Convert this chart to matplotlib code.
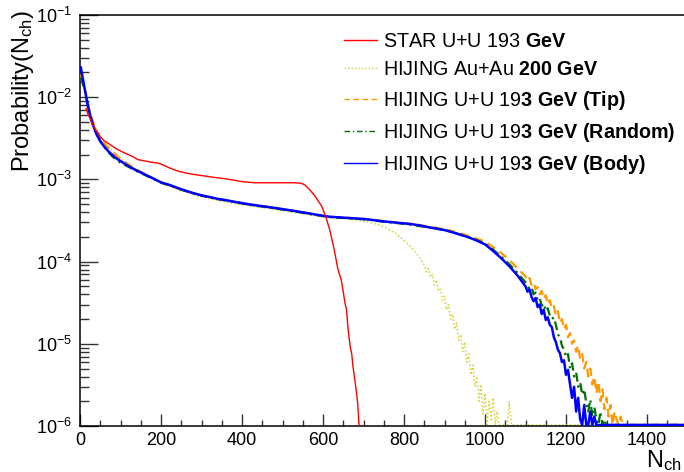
import numpy as np
import matplotlib
matplotlib.use("Agg")
import matplotlib.pyplot as plt
from matplotlib.ticker import LogLocator, MultipleLocator, LogFormatterSciNotation, NullFormatter

plt.rcParams["font.family"] = ["Liberation Sans", "DejaVu Sans"]
plt.rcParams["mathtext.fontset"] = "custom"
plt.rcParams["mathtext.rm"] = "Liberation Sans"
plt.rcParams["mathtext.bf"] = "Liberation Sans:bold"
plt.rcParams["mathtext.it"] = "Liberation Sans:italic"

# ---------------- data ----------------
# STAR U+U 193 GeV multiplicity distribution
star_x = [15, 20, 30, 40, 45, 50, 60, 77, 90, 110, 130, 143, 160, 175, 193, 205, 215, 224,
          240, 260, 280, 308, 330, 357, 380, 400, 431, 460, 500, 530, 545, 555, 568, 580,
          597, 607, 617, 627, 637, 645, 650, 654, 658, 662, 667, 671, 674, 678, 683, 686, 689]
star_p = [7.3e-3, 6.2e-3, 4.8e-3, 3.9e-3, 3.65e-3, 3.3e-3, 2.95e-3, 2.6e-3, 2.35e-3, 2.1e-3,
          1.9e-3, 1.74e-3, 1.68e-3, 1.62e-3, 1.58e-3, 1.5e-3, 1.42e-3, 1.36e-3,
          1.27e-3, 1.2e-3, 1.15e-3, 1.1e-3, 1.06e-3, 1.02e-3, 9.8e-4, 9.4e-4, 9.1e-4, 9.1e-4,
          9.1e-4, 9.1e-4, 9.0e-4, 8.6e-4, 7.4e-4, 6.3e-4, 4.7e-4, 3.5e-4, 2.4e-4, 1.45e-4,
          8.0e-5, 6.0e-5, 4.3e-5, 3.2e-5, 2.6e-5, 1.5e-5, 9.3e-6, 7.5e-6, 5.3e-6, 3.8e-6,
          2.5e-6, 1.8e-6, 1.0e-6]

# common N_ch grid for the HIJING bodies
body_x = [2, 5, 10, 15, 20, 25, 30, 40, 50, 60, 70, 80, 90, 100,
          120, 140, 160, 180, 200, 220, 240, 260, 280, 300, 320, 340, 360, 380, 400,
          420, 440, 460, 480, 500, 520, 540, 560, 580, 600, 620, 640, 660, 680, 700,
          720, 740, 760, 780, 800, 820, 840]

body_p = [2.3e-2, 1.9e-2, 1.4e-2, 1.02e-2, 7.6e-3, 6.0e-3, 4.9e-3, 3.6e-3, 2.9e-3, 2.5e-3,
          2.2e-3, 1.98e-3, 1.8e-3, 1.67e-3,
          1.45e-3, 1.28e-3, 1.15e-3, 1.03e-3, 9.2e-4, 8.6e-4, 7.9e-4, 7.3e-4, 6.8e-4, 6.4e-4,
          6.1e-4, 5.8e-4, 5.6e-4, 5.35e-4, 5.15e-4, 4.95e-4, 4.8e-4, 4.65e-4, 4.5e-4, 4.35e-4,
          4.2e-4, 4.05e-4, 3.9e-4, 3.75e-4, 3.6e-4, 3.5e-4, 3.45e-4, 3.4e-4, 3.35e-4, 3.3e-4,
          3.22e-4, 3.12e-4, 3.05e-4, 2.98e-4, 2.92e-4, 2.85e-4, 2.75e-4]

auau_body = [1.8e-2, 1.6e-2, 1.3e-2, 1.05e-2, 8.2e-3, 6.6e-3, 5.5e-3, 4.1e-3, 3.2e-3, 2.8e-3,
             2.5e-3, 2.25e-3, 2.0e-3, 1.8e-3,
             1.52e-3, 1.32e-3, 1.16e-3, 1.02e-3, 9.0e-4, 8.3e-4, 7.6e-4, 7.0e-4, 6.5e-4, 6.1e-4,
             5.8e-4, 5.55e-4, 5.35e-4, 5.1e-4, 4.9e-4, 4.75e-4, 4.6e-4, 4.45e-4, 4.3e-4, 4.15e-4,
             4.0e-4, 3.9e-4, 3.75e-4, 3.6e-4, 3.5e-4, 3.4e-4, 3.35e-4, 3.3e-4, 3.2e-4, 3.1e-4,
             2.95e-4, 2.8e-4, 2.5e-4, 2.2e-4, 1.8e-4, 1.45e-4, 1.1e-4]

tip_body = [1.9e-2, 1.7e-2, 1.35e-2, 1.08e-2, 8.3e-3, 6.6e-3, 5.4e-3, 4.0e-3, 3.15e-3, 2.75e-3,
            2.42e-3, 2.18e-3, 1.96e-3, 1.78e-3,
            1.52e-3, 1.32e-3, 1.17e-3, 1.04e-3, 9.2e-4, 8.5e-4, 7.8e-4, 7.2e-4, 6.8e-4, 6.4e-4,
            6.1e-4, 5.8e-4, 5.55e-4, 5.35e-4, 5.15e-4, 4.95e-4, 4.8e-4, 4.65e-4, 4.5e-4, 4.35e-4,
            4.2e-4, 4.05e-4, 3.9e-4, 3.75e-4, 3.62e-4, 3.52e-4, 3.46e-4, 3.42e-4, 3.37e-4, 3.32e-4,
            3.25e-4, 3.16e-4, 3.08e-4, 3.0e-4, 2.94e-4, 2.87e-4, 2.78e-4]

random_body = [1.7e-2, 1.55e-2, 1.3e-2, 1.03e-2, 7.8e-3, 6.2e-3, 5.0e-3, 3.7e-3, 2.95e-3, 2.5e-3,
               2.15e-3, 1.9e-3, 1.72e-3, 1.6e-3,
               1.42e-3, 1.26e-3, 1.13e-3, 1.02e-3, 9.1e-4, 8.5e-4, 7.8e-4, 7.25e-4, 6.75e-4, 6.35e-4,
               6.05e-4, 5.75e-4, 5.55e-4, 5.3e-4, 5.1e-4, 4.9e-4, 4.75e-4, 4.6e-4, 4.45e-4, 4.3e-4,
               4.15e-4, 4.0e-4, 3.85e-4, 3.7e-4, 3.58e-4, 3.48e-4, 3.42e-4, 3.37e-4, 3.32e-4, 3.27e-4,
               3.2e-4, 3.1e-4, 3.02e-4, 2.95e-4, 2.88e-4, 2.8e-4, 2.7e-4]

# falling tails (0 = empty bin)
auau_tail_x = [850, 855, 860, 865, 870, 875, 880, 885, 890, 895, 900, 905, 910, 915, 920, 925,
               930, 935, 940, 945, 950, 955, 960, 965, 970, 975, 980, 985, 990, 995, 1000,
               1005, 1010, 1015, 1020, 1025, 1030, 1035, 1055, 1060, 1065, 1500]
auau_tail_p = [9.0e-5, 7.5e-5, 8.2e-5, 6.5e-5, 7.0e-5, 5.2e-5, 6.0e-5, 4.4e-5, 4.6e-5, 3.4e-5,
               3.8e-5, 2.6e-5, 3.0e-5, 2.0e-5, 2.3e-5, 1.5e-5, 1.8e-5, 1.1e-5, 1.3e-5, 8.0e-6,
               1.05e-5, 6.0e-6, 7.5e-6, 4.2e-6, 5.5e-6, 3.0e-6, 4.0e-6, 2.0e-6, 3.2e-6, 1.4e-6,
               2.5e-6, 0, 2.0e-6, 1.2e-6, 2.2e-6, 0, 1.5e-6, 0, 0, 2.0e-6, 0, 0]

uu_tail_x = [860, 880, 900, 920, 940, 960, 980, 1000, 1020, 1040, 1060, 1080, 1100,
             1105, 1110, 1115, 1120, 1125, 1130, 1135, 1140, 1145, 1150, 1155, 1160, 1165,
             1170, 1175, 1180, 1185, 1190, 1195, 1200, 1205, 1210, 1215, 1220, 1225, 1230,
             1235, 1240, 1245, 1250, 1255, 1260, 1265, 1270, 1275, 1280, 1285, 1290, 1295,
             1300, 1305, 1310, 1315, 1320, 1325, 1330, 1335, 1340, 1500]

tip_tail_p = [2.68e-4, 2.58e-4, 2.48e-4, 2.35e-4, 2.2e-4, 2.05e-4, 1.9e-4, 1.75e-4, 1.5e-4,
              1.27e-4, 1.05e-4, 8.3e-5, 6.6e-5,
              5.8e-5, 6.3e-5, 5.2e-5, 5.6e-5, 4.6e-5, 4.9e-5, 4.0e-5, 4.4e-5, 3.5e-5, 3.9e-5,
              3.0e-5, 3.4e-5, 2.7e-5, 2.9e-5, 2.2e-5, 2.5e-5, 1.8e-5, 2.0e-5, 1.5e-5, 1.7e-5,
              1.2e-5, 1.35e-5, 1.0e-5, 1.1e-5, 8.0e-6, 9.5e-6, 6.5e-6, 7.5e-6, 5.0e-6, 6.0e-6,
              4.0e-6, 5.0e-6, 3.2e-6, 4.0e-6, 2.5e-6, 3.5e-6, 2.0e-6, 2.8e-6, 1.6e-6, 2.2e-6,
              1.3e-6, 1.8e-6, 0, 1.5e-6, 1.2e-6, 0, 1.3e-6, 0, 0]

random_tail_p = [2.62e-4, 2.52e-4, 2.42e-4, 2.28e-4, 2.12e-4, 1.97e-4, 1.82e-4, 1.66e-4, 1.4e-4,
                 1.15e-4, 9.3e-5, 7.3e-5, 5.6e-5,
                 5.0e-5, 4.7e-5, 4.9e-5, 4.0e-5, 4.2e-5, 3.4e-5, 3.6e-5, 2.9e-5, 3.1e-5, 2.5e-5,
                 2.7e-5, 2.2e-5, 2.0e-5, 2.1e-5, 1.7e-5, 1.3e-5, 1.2e-5, 9.5e-6, 8.5e-6, 6.9e-6,
                 7.5e-6, 5.0e-6, 5.8e-6, 4.0e-6, 4.5e-6, 3.0e-6, 3.4e-6, 2.4e-6, 2.8e-6, 1.9e-6,
                 1.5e-6, 2.1e-6, 1.3e-6, 1.7e-6, 1.2e-6, 0, 1.5e-6, 0, 1.2e-6,
                 0, 0, 0, 0, 0, 0, 0, 0, 0, 0]

body_tail_p = [2.62e-4, 2.52e-4, 2.42e-4, 2.27e-4, 2.12e-4, 1.97e-4, 1.8e-4, 1.62e-4, 1.35e-4,
               1.1e-4, 8.8e-5, 6.8e-5, 5.0e-5,
               4.3e-5, 4.6e-5, 3.7e-5, 3.3e-5, 3.6e-5, 2.8e-5, 3.0e-5, 2.3e-5, 2.6e-5, 1.95e-5,
               2.1e-5, 1.7e-5, 1.6e-5, 1.2e-5, 1.05e-5, 8.5e-6, 7.7e-6, 6.0e-6, 6.3e-6, 4.2e-6,
               4.8e-6, 3.2e-6, 2.2e-6, 3.0e-6, 1.5e-6, 2.2e-6, 1.2e-6, 0, 1.8e-6, 0,
               0, 1.5e-6, 0, 1.3e-6, 0, 0, 0, 0, 0,
               0, 0, 0, 0, 0, 0, 0, 0, 0, 0]

labels = [
    r"STAR U+U 193 $\mathbf{GeV}$",
    r"HIJING Au+Au $\mathbf{200\ GeV}$",
    r"HIJING U+U 19$\mathbf{3\ GeV\ (Tip)}$",
    r"HIJING U+U 19$\mathbf{3\ GeV\ (Random)}$",
    r"HIJING U+U 19$\mathbf{3\ GeV\ (Body)}$",
]

YMIN, YMAX = 1e-6, 1e-1


def floor(values):
    # empty bins sit on the lower frame edge
    v = np.asarray(values, dtype=float)
    return np.where(v <= 0, YMIN * 1.03, v)


# ---------------- figure ----------------
fig = plt.figure(figsize=(6.84, 4.72), dpi=100)
ax = fig.add_axes([80 / 684, 46 / 472, 607.5 / 684, 411 / 472])

ax.plot(star_x, star_p, color="#ff0000", lw=1.0, ls="-", label=labels[0], zorder=6)
ax.plot(body_x + auau_tail_x, floor(auau_body + auau_tail_p), color="#d2d23a", lw=1.1,
        ls=(0, (1, 1.5)), label=labels[1], zorder=2)
ax.plot(body_x + uu_tail_x, floor(tip_body + tip_tail_p), color="#ff9900", lw=1.6,
        ls=(0, (4, 2.5)), label=labels[2], zorder=3)
ax.plot(body_x + uu_tail_x, floor(random_body + random_tail_p), color="#007000", lw=1.6,
        ls=(0, (4, 2, 1, 2)), label=labels[3], zorder=4)
ax.plot(body_x + uu_tail_x, floor(body_p + body_tail_p), color="#0000ff", lw=1.8,
        ls="-", label=labels[4], zorder=5)

ax.set_yscale("log")
ax.set_xlim(0, 1500)
ax.set_ylim(YMIN, YMAX)

ax.xaxis.set_major_locator(MultipleLocator(200))
ax.xaxis.set_minor_locator(MultipleLocator(50))
ax.yaxis.set_major_locator(LogLocator(base=10, numticks=10))
ax.yaxis.set_minor_locator(LogLocator(base=10, subs=np.arange(2, 10), numticks=20))
ax.yaxis.set_major_formatter(LogFormatterSciNotation())
ax.yaxis.set_minor_formatter(NullFormatter())

ax.tick_params(axis="both", which="both", direction="in", labelsize=13, width=1.0,
               color="#333333")
ax.tick_params(axis="y", which="major", length=13, pad=6)
ax.tick_params(axis="y", which="minor", length=6.5)
ax.tick_params(axis="x", which="major", length=8.5, pad=4)
ax.tick_params(axis="x", which="minor", length=4.3)
ax.tick_params(top=False, right=False)
for s in ax.spines.values():
    s.set_linewidth(1.1)

ax.set_ylabel(r"Probability(N$_{\rm ch}$)", fontsize=17, loc="top")
ax.yaxis.set_label_coords(-0.072, 1.012)
fig.text(646 / 684, 5 / 472, r"N$_{\rm ch}$", fontsize=17, ha="left", va="baseline")

leg = ax.legend(loc="upper left", bbox_to_anchor=(344 / 684, 1 - 32 / 472),
                bbox_transform=fig.transFigure, frameon=False, fontsize=14.2,
                handlelength=1.65, handletextpad=0.35, labelspacing=0.47,
                borderpad=0.0, borderaxespad=0.0)
for h in leg.get_lines():
    h.set_linewidth(1.0)

fig.savefig("out.png", dpi=100)
